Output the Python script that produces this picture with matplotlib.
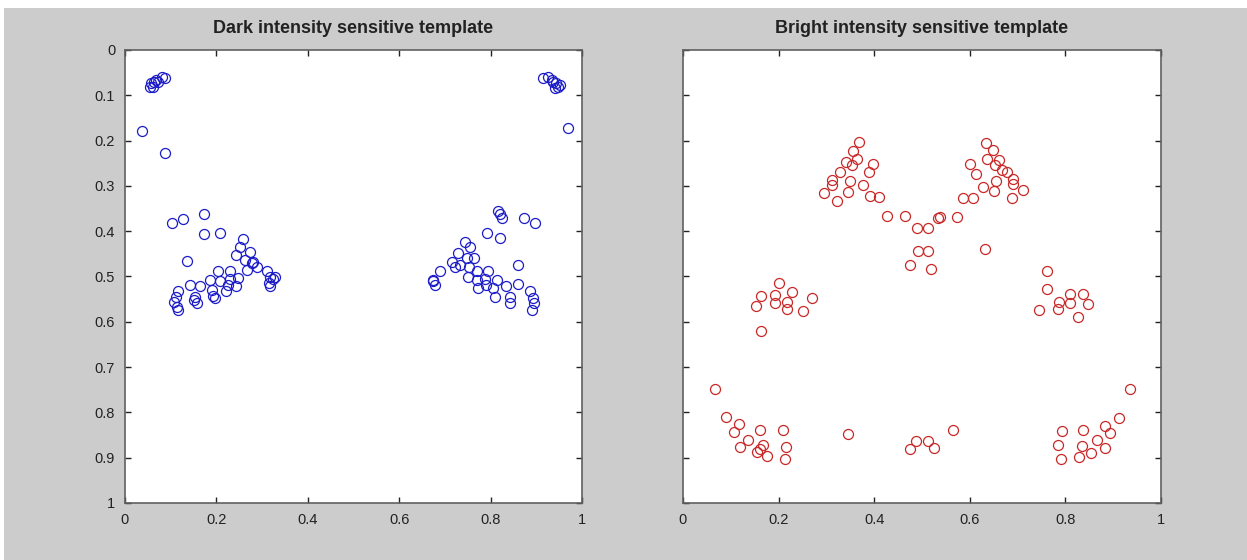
import matplotlib
matplotlib.use("Agg")
import matplotlib.pyplot as plt
from matplotlib.patches import Rectangle

plt.rcParams['font.family'] = ['Liberation Sans', 'DejaVu Sans']

# Dark intensity sensitive template (blue)
dark_x = [0.055, 0.058, 0.063, 0.069, 0.080, 0.088, 0.062, 0.073,
          0.037, 0.088,
          0.104, 0.126, 0.174, 0.174, 0.208, 0.259, 0.136, 0.252, 0.274, 0.244,
          0.263, 0.281, 0.288, 0.266, 0.310, 0.248, 0.230, 0.204, 0.186, 0.208,
          0.226, 0.230, 0.142, 0.164, 0.190, 0.193, 0.222, 0.244, 0.153, 0.157,
          0.117, 0.112, 0.107, 0.113, 0.117, 0.317, 0.325, 0.316, 0.317, 0.328,
          0.197, 0.277, 0.150,
          0.915, 0.926, 0.937, 0.944, 0.948, 0.952, 0.941, 0.934,
          0.970,
          0.817, 0.824, 0.820, 0.873, 0.897, 0.793, 0.821, 0.744, 0.756, 0.729,
          0.748, 0.764, 0.715, 0.733, 0.752, 0.770, 0.795, 0.859, 0.689, 0.675,
          0.678, 0.675, 0.751, 0.770, 0.788, 0.813, 0.773, 0.790, 0.806, 0.810,
          0.834, 0.861, 0.842, 0.842, 0.886, 0.893, 0.895, 0.890, 0.722]
dark_y = [0.081, 0.074, 0.070, 0.066, 0.060, 0.063, 0.081, 0.070,
          0.180, 0.228,
          0.383, 0.373, 0.363, 0.406, 0.403, 0.418, 0.466, 0.436, 0.446, 0.453,
          0.464, 0.467, 0.478, 0.486, 0.489, 0.504, 0.489, 0.489, 0.508, 0.511,
          0.519, 0.506, 0.519, 0.522, 0.530, 0.543, 0.533, 0.522, 0.545, 0.559,
          0.533, 0.546, 0.556, 0.567, 0.574, 0.502, 0.506, 0.515, 0.522, 0.502,
          0.548, 0.471, 0.552,
          0.063, 0.059, 0.070, 0.074, 0.081, 0.077, 0.085, 0.066,
          0.173,
          0.355, 0.372, 0.362, 0.372, 0.383, 0.405, 0.416, 0.423, 0.436, 0.449,
          0.460, 0.460, 0.467, 0.475, 0.478, 0.489, 0.489, 0.475, 0.489, 0.508,
          0.519, 0.511, 0.502, 0.508, 0.506, 0.508, 0.526, 0.519, 0.526, 0.545,
          0.522, 0.517, 0.545, 0.559, 0.533, 0.548, 0.559, 0.574, 0.478]

# Bright intensity sensitive template (red)
bright_x = [0.369, 0.355, 0.365, 0.341, 0.398, 0.353, 0.390, 0.328, 0.311, 0.349,
            0.311, 0.376, 0.294, 0.346, 0.391, 0.411, 0.323, 0.426, 0.464, 0.489,
            0.513, 0.534, 0.492, 0.513, 0.475, 0.518,
            0.201, 0.163, 0.192, 0.229, 0.269, 0.153, 0.192, 0.217, 0.217, 0.252,
            0.163,
            0.634, 0.649, 0.600, 0.637, 0.662, 0.653, 0.667, 0.677, 0.613, 0.690,
            0.654, 0.690, 0.627, 0.651, 0.711, 0.586, 0.607, 0.688, 0.538, 0.574,
            0.632,
            0.761, 0.762, 0.810, 0.836, 0.787, 0.810, 0.848, 0.784, 0.745, 0.827,
            0.067, 0.091, 0.118, 0.107, 0.161, 0.209, 0.137, 0.119, 0.167, 0.154,
            0.161, 0.175, 0.215, 0.213, 0.345, 0.475, 0.487, 0.513, 0.525, 0.564,
            0.935, 0.913, 0.883, 0.893, 0.837, 0.794, 0.866, 0.834, 0.883, 0.785,
            0.854, 0.828, 0.791]
bright_y = [0.204, 0.223, 0.241, 0.248, 0.252, 0.254, 0.270, 0.270, 0.287, 0.289,
            0.297, 0.298, 0.315, 0.313, 0.322, 0.324, 0.333, 0.366, 0.366, 0.392,
            0.392, 0.372, 0.443, 0.443, 0.475, 0.484,
            0.514, 0.543, 0.541, 0.534, 0.548, 0.565, 0.558, 0.557, 0.572, 0.576,
            0.620,
            0.205, 0.221, 0.252, 0.241, 0.244, 0.254, 0.265, 0.269, 0.274, 0.285,
            0.289, 0.296, 0.302, 0.311, 0.309, 0.326, 0.326, 0.326, 0.369, 0.368,
            0.440,
            0.489, 0.528, 0.539, 0.539, 0.556, 0.558, 0.561, 0.572, 0.575, 0.590,
            0.748, 0.811, 0.826, 0.844, 0.839, 0.839, 0.861, 0.877, 0.872, 0.887,
            0.880, 0.896, 0.877, 0.903, 0.848, 0.881, 0.863, 0.863, 0.879, 0.839,
            0.749, 0.813, 0.829, 0.846, 0.839, 0.841, 0.861, 0.874, 0.878, 0.873,
            0.889, 0.898, 0.903]

titles = ["Dark intensity sensitive template", "Bright intensity sensitive template"]
xtick_vals = [0, 0.2, 0.4, 0.6, 0.8, 1]
ytick_vals = [0, 0.1, 0.2, 0.3, 0.4, 0.5, 0.6, 0.7, 0.8, 0.9, 1]

fig = plt.figure(figsize=(12.47, 5.6), dpi=100, facecolor="#cccccc")
# white border of the screenshot
fig.patches.append(Rectangle((0, 0.986), 1, 0.014, transform=fig.transFigure,
                             facecolor="white", edgecolor="none", zorder=-1))
fig.patches.append(Rectangle((0, 0), 0.003, 1, transform=fig.transFigure,
                             facecolor="white", edgecolor="none", zorder=-1))

ax1 = fig.add_axes([0.1002, 0.1018, 0.3665, 0.809])
ax2 = fig.add_axes([0.5477, 0.1018, 0.3833, 0.809])

ax1.plot(dark_x, dark_y, 'o', markerfacecolor='none', markeredgecolor='#1c1cc8',
         markersize=7.2, markeredgewidth=0.9)
ax2.plot(bright_x, bright_y, 'o', markerfacecolor='none', markeredgecolor='#c82828',
         markersize=7.2, markeredgewidth=0.9)

for ax, t in zip([ax1, ax2], titles):
    ax.set_xlim(0, 1)
    ax.set_ylim(1, 0)
    ax.set_facecolor("white")
    ax.set_title(t, fontsize=13, fontweight="bold", color="#222222", pad=12)
    ax.set_xticks(xtick_vals)
    ax.set_xticklabels(["%g" % v for v in xtick_vals])
    ax.set_yticks(ytick_vals)
    ax.tick_params(direction="in", length=4, width=1, top=True, right=True,
                   labelsize=10.5, colors="#222222", pad=7)
    for s in ax.spines.values():
        s.set_color("#606060")
        s.set_linewidth(1.2)

ax1.set_yticklabels(["%g" % v for v in ytick_vals])
ax2.set_yticklabels([])

plt.savefig("out.png", dpi=100, facecolor=fig.get_facecolor())
